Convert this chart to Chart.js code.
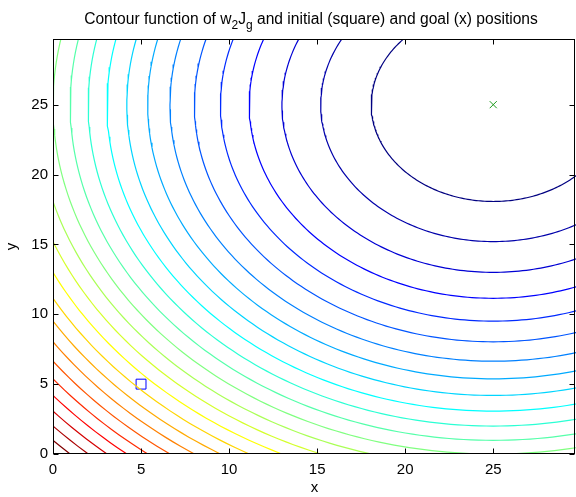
<!DOCTYPE html>
<html>
<head>
<meta charset="utf-8">
<script src="https://cdn.jsdelivr.net/npm/chart.js@4/dist/chart.umd.min.js"></script>
<style>
  body { margin: 0; background: #fff; }
</style>
</head>
<body>
<canvas id="myChart" width="576" height="497"></canvas>
<script>
// goal and initial positions
const goalPos = [25, 25];
const startPos = [5, 5];

// contour levels of Jg
const levels = [48, 96, 144, 192, 240, 288, 337, 385, 433, 481, 529, 577, 625,
    673, 721, 769, 817, 865, 913, 962, 1010, 1058, 1106, 1154, 1202];

const xTicks = [0, 5, 10, 15, 20, 25];
const yTicks = [0, 5, 10, 15, 20, 25];
const axisMax = 29.7;

const FONT = "'Liberation Sans', Arial, Helvetica, sans-serif";

// jet colormap
function jet(t) {
    const c = v => Math.round(255 * Math.max(0, Math.min(1, v)));
    return 'rgb(' + c(1.5 - Math.abs(4 * t - 3)) + ',' + c(1.5 - Math.abs(4 * t - 2)) + ',' + c(1.5 - Math.abs(4 * t - 1)) + ')';
}

// contour line of Jg = (x-gx)^2 + (y-gy)^2 at a given level
function contour(level) {
    const r = Math.sqrt(level);
    let pts = [];
    for (let a = 0; a <= 360; a++) {
        const t = a * Math.PI / 180;
        pts.push({x: goalPos[0] + r * Math.cos(t), y: goalPos[1] + r * Math.sin(t)});
    }
    return pts;
}

const lmin = levels[0], lmax = levels[levels.length - 1];
let datasets = levels.map(function (lv) {
    return {
        data: contour(lv),
        showLine: true,
        borderColor: jet((lv - lmin) / (lmax - lmin)),
        borderWidth: 1.2,
        pointRadius: 0,
        tension: 0,
        clip: 0
    };
});

datasets.push({
    data: [{x: startPos[0], y: startPos[1]}],
    pointStyle: 'rect',
    pointRadius: 7,
    borderColor: '#0000ff',
    backgroundColor: 'rgba(0,0,0,0)',
    borderWidth: 1
});
datasets.push({
    data: [{x: goalPos[0], y: goalPos[1]}],
    pointStyle: 'crossRot',
    pointRadius: 5,
    borderColor: '#1a9a1a',
    borderWidth: 1
});

// title with subscripts + box + inward ticks
const framePlugin = {
    id: 'framePlugin',
    afterDraw(chart) {
        const ctx = chart.ctx;
        const a = chart.chartArea;
        const xs = chart.scales.x, ys = chart.scales.y;
        ctx.save();
        ctx.strokeStyle = '#000';
        ctx.lineWidth = 1;
        const L = Math.round(a.left) + 0.5, R = Math.round(a.right) - 1.5;
        const T = Math.round(a.top) + 0.5, B = Math.round(a.bottom) - 0.5;
        ctx.strokeRect(L, T, R - L, B - T);
        ctx.beginPath();
        xTicks.forEach(function (v) {
            const px = Math.round(xs.getPixelForValue(v)) + 0.5;
            ctx.moveTo(px, B); ctx.lineTo(px, B - 5);
            ctx.moveTo(px, T); ctx.lineTo(px, T + 5);
        });
        yTicks.forEach(function (v) {
            const py = Math.round(ys.getPixelForValue(v)) + 0.5;
            ctx.moveTo(L, py); ctx.lineTo(L + 5, py);
            ctx.moveTo(R, py); ctx.lineTo(R - 5, py);
        });
        ctx.stroke();

        // title
        const big = "15.6px " + FONT, small = "12px " + FONT;
        const parts = [
            ["Contour function of w", big, 0],
            ["2", small, 5],
            ["J", big, 0],
            ["g", small, 5],
            [" and initial (square) and goal (x) positions", big, 0]
        ];
        let w = 0;
        parts.forEach(function (p) { ctx.font = p[1]; w += ctx.measureText(p[0]).width; });
        let x = 311 - w / 2;
        ctx.fillStyle = '#000';
        ctx.textBaseline = 'alphabetic';
        ctx.textAlign = 'left';
        parts.forEach(function (p) {
            ctx.font = p[1];
            ctx.fillText(p[0], x, 24 + p[2]);
            x += ctx.measureText(p[0]).width;
        });
        ctx.restore();
    }
};

const config = {
    type: 'scatter',
    data: {datasets: datasets},
    options: {
        responsive: false,
        animation: false,
        layout: {autoPadding: false, padding: {top: 39, right: 0, left: 0, bottom: 0}},
        plugins: {legend: {display: false}, tooltip: {enabled: false}},
        scales: {
            x: {
                type: 'linear', min: 0, max: axisMax,
                afterFit: function (s) { s.height = 43; s.paddingLeft = 0; s.paddingRight = 0; },
                afterBuildTicks: function (s) { s.ticks = xTicks.map(v => ({value: v})); },
                grid: {display: false, drawTicks: false},
                border: {display: false},
                ticks: {color: '#000', font: {family: FONT, size: 15}, padding: 7, maxRotation: 0, autoSkip: false},
                title: {display: true, text: 'x', color: '#000', font: {family: FONT, size: 15}, padding: {top: 0, bottom: 0}}
            },
            y: {
                type: 'linear', min: 0, max: axisMax,
                afterFit: function (s) { s.width = 53; s.paddingTop = 0; s.paddingBottom = 0; },
                afterBuildTicks: function (s) { s.ticks = yTicks.map(v => ({value: v})); },
                grid: {display: false, drawTicks: false},
                border: {display: false},
                ticks: {color: '#000', font: {family: FONT, size: 15}, padding: 5, autoSkip: false},
                title: {display: true, text: 'y', color: '#000', font: {family: FONT, size: 15}, padding: {top: 3, bottom: 0}}
            }
        }
    },
    plugins: [framePlugin]
};

const myChart = new Chart(document.getElementById('myChart'), config);
</script>
</body>
</html>
